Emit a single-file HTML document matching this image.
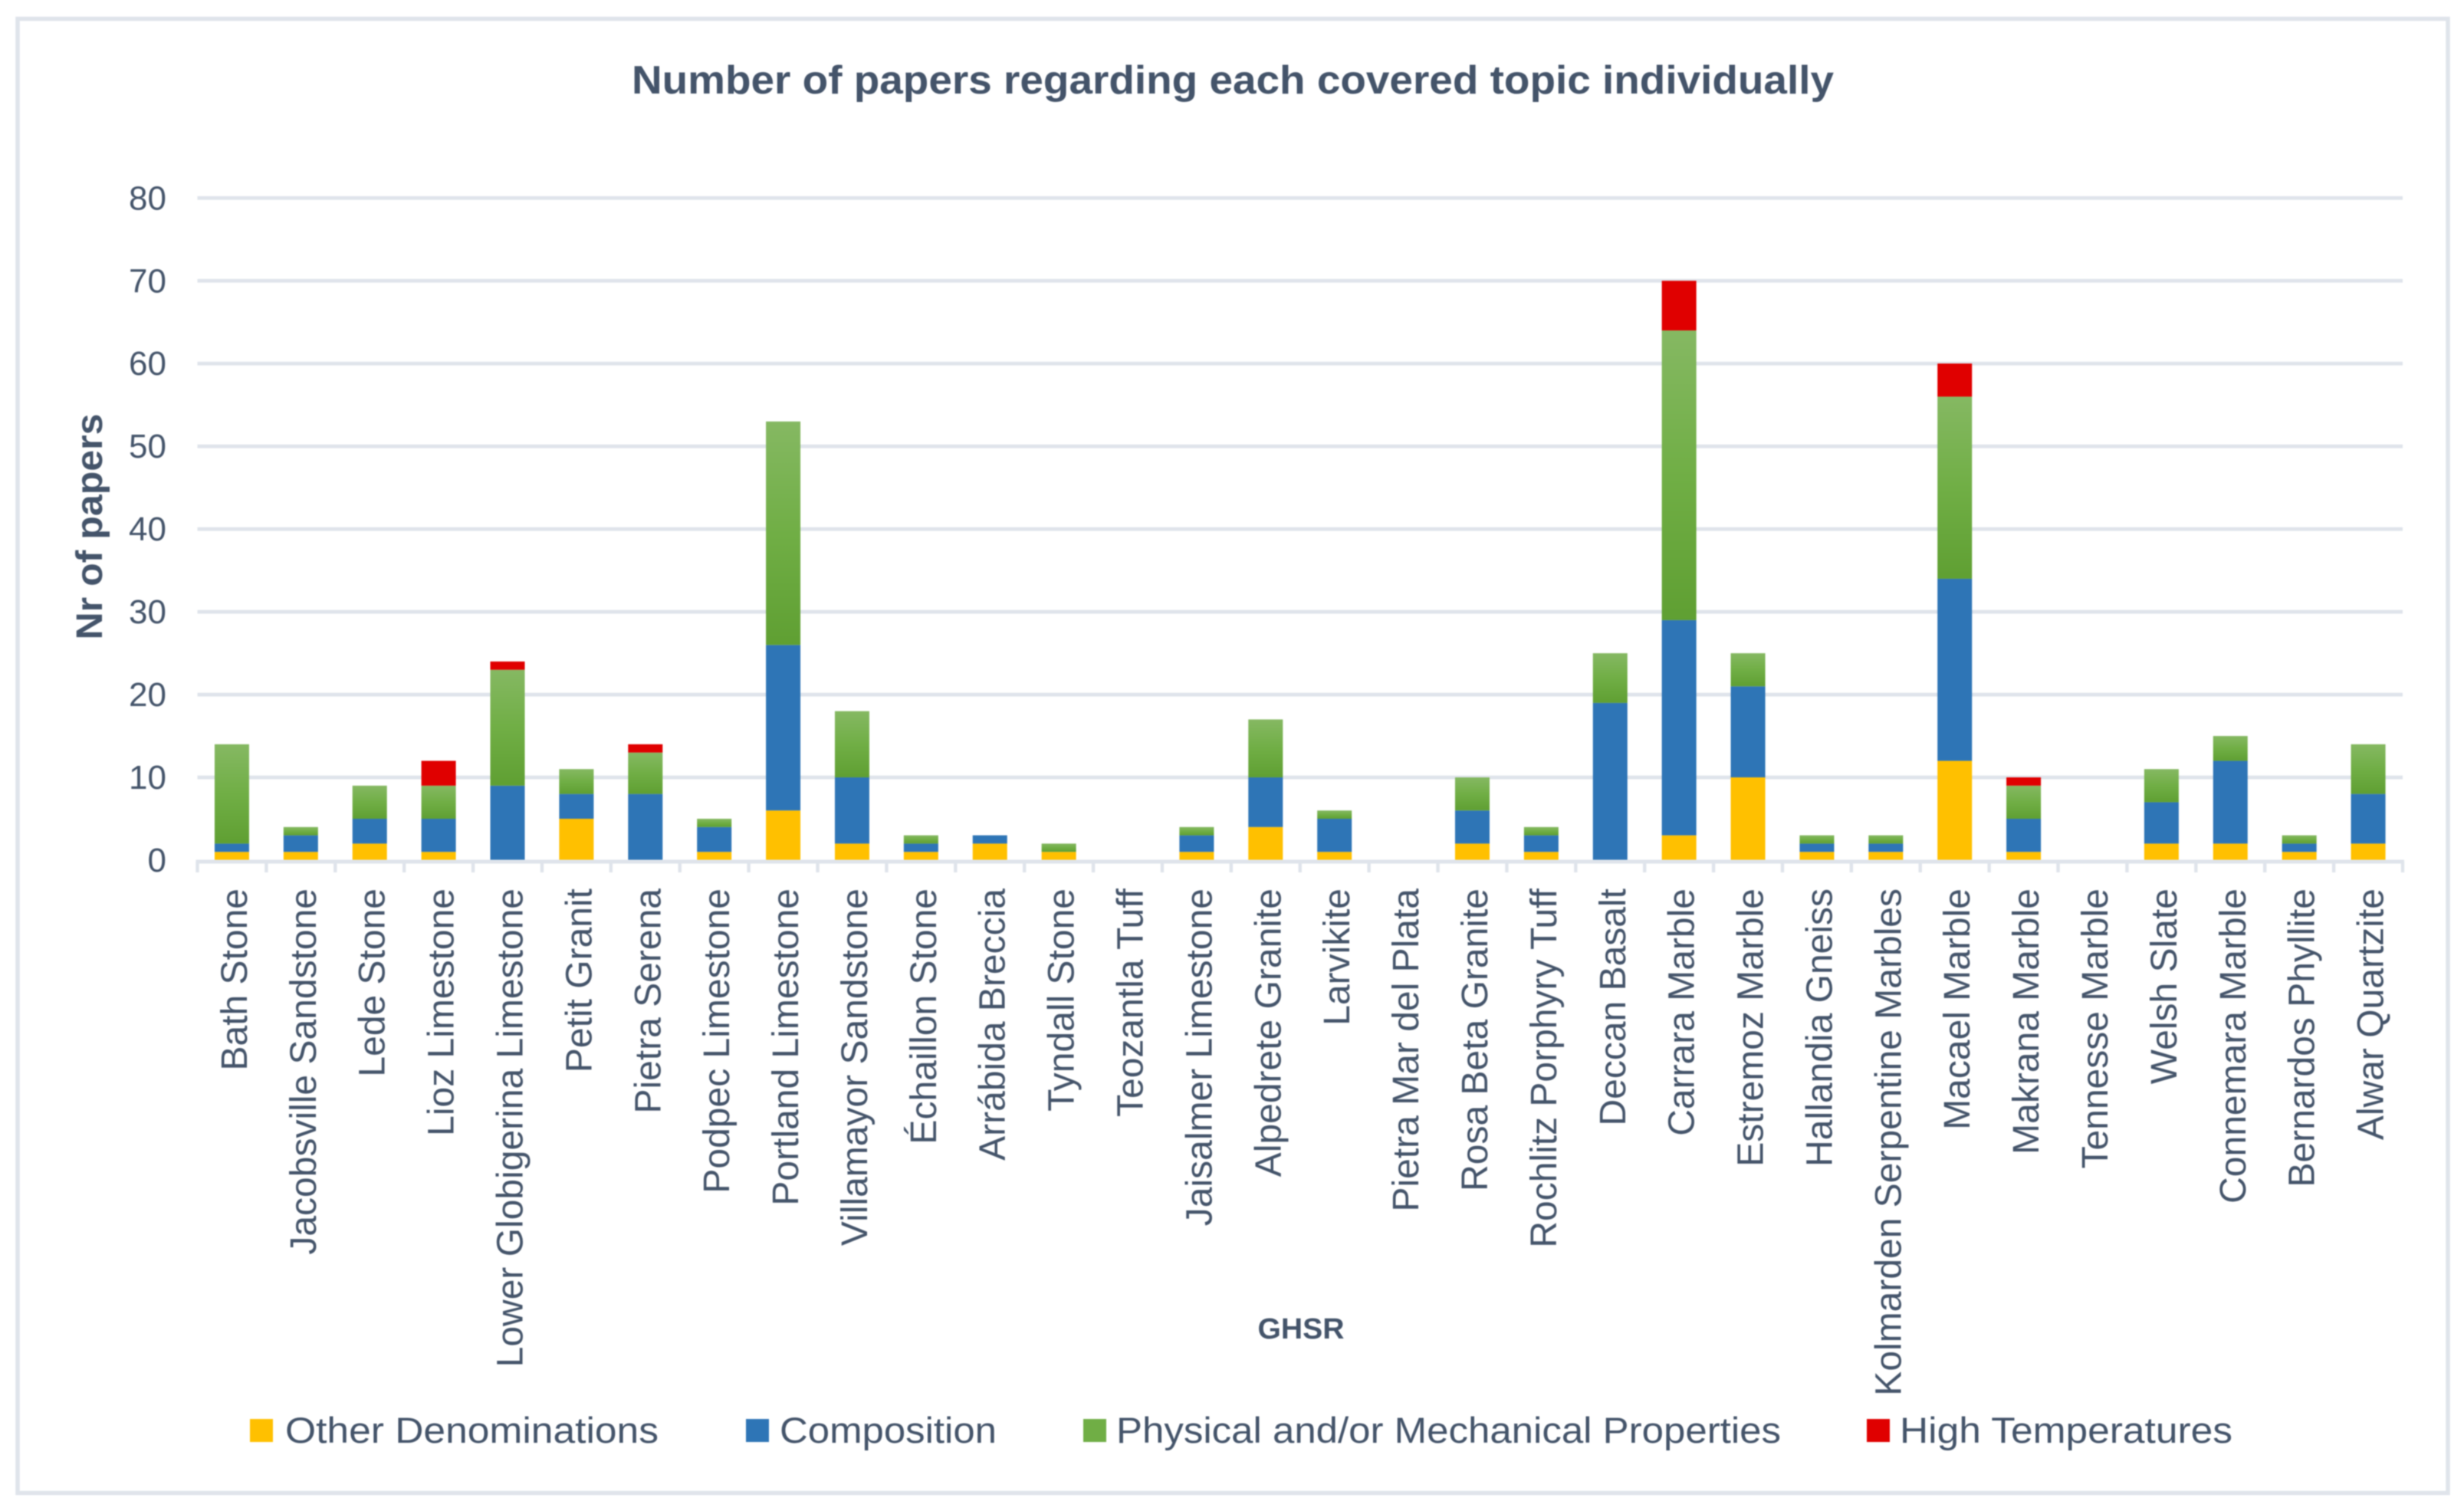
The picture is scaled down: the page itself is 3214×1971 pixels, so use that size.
<!DOCTYPE html>
<html lang="en">
<head>
<meta charset="utf-8">
<title>Number of papers regarding each covered topic individually</title>
<style>
html,body{margin:0;padding:0;background:#fff;width:3214px;height:1971px;overflow:hidden}
svg{display:block;filter:blur(0.7px)}
text{font-family:"Liberation Sans",sans-serif;fill:#44546A}
</style>
</head>
<body>
<svg id="chart" xmlns="http://www.w3.org/2000/svg" width="3214" height="1971" viewBox="0 0 3214 1971">
  <defs>
    <linearGradient id="greenFill" x1="0" y1="0" x2="0" y2="1">
      <stop offset="0" stop-color="#85B862"/>
      <stop offset="0.5" stop-color="#70AE45"/>
      <stop offset="1" stop-color="#5F9F32"/>
    </linearGradient>
  </defs>
  <rect x="0" y="0" width="3214" height="1971" fill="#fff"/>
  <rect x="23" y="24.5" width="3170" height="1923" fill="none" stroke="#DFE4EB" stroke-width="5.5"/>
  <text x="1608" y="122" text-anchor="middle" font-size="52" font-weight="bold" textLength="1568" lengthAdjust="spacingAndGlyphs">Number of papers regarding each covered topic individually</text>
  <g id="grid"></g>
  <g id="yticks"></g>
  <g id="bars"></g>
  <g id="axis"></g>
  <g id="xlabels"></g>
  <text transform="translate(133,687) rotate(-90)" text-anchor="middle" font-size="48" font-weight="bold" textLength="295" lengthAdjust="spacingAndGlyphs">Nr of papers</text>
  <text x="1697" y="1746" text-anchor="middle" font-size="38" font-weight="bold" textLength="113" lengthAdjust="spacingAndGlyphs">GHSR</text>
  <g>
    <rect x="326" y="1851" width="30" height="30" fill="#FFC000"/>
    <text x="372" y="1882" font-size="47" textLength="487" lengthAdjust="spacingAndGlyphs">Other Denominations</text>
    <rect x="973" y="1851" width="30" height="30" fill="#2E75B6"/>
    <text x="1017" y="1882" font-size="47" textLength="283" lengthAdjust="spacingAndGlyphs">Composition</text>
    <rect x="1413" y="1851" width="30" height="30" fill="#70AE45"/>
    <text x="1456" y="1882" font-size="47" textLength="867" lengthAdjust="spacingAndGlyphs">Physical and/or Mechanical Properties</text>
    <rect x="2435" y="1851" width="30" height="30" fill="#E00000"/>
    <text x="2478" y="1882" font-size="47" textLength="434" lengthAdjust="spacingAndGlyphs">High Temperatures</text>
  </g>
</svg>
<script>
const categories = ["Bath Stone","Jacobsville Sandstone","Lede Stone","Lioz Limestone","Lower Globigerina Limestone","Petit Granit","Pietra Serena","Podpec Limestone","Portland Limestone","Villamayor Sandstone","Échaillon Stone","Arrábida Breccia","Tyndall Stone","Teozantla Tuff","Jaisalmer Limestone","Alpedrete Granite","Larvikite","Pietra Mar del Plata","Rosa Beta Granite","Rochlitz Porphyry Tuff","Deccan Basalt","Carrara Marble","Estremoz Marble","Hallandia Gneiss","Kolmarden Serpentine Marbles","Macael Marble","Makrana Marble","Tennesse Marble","Welsh Slate","Connemara Marble","Bernardos Phyllite","Alwar Quartzite"];
const otherDenominations = [1,1,2,1,0,5,0,1,6,2,1,2,1,0,1,4,1,0,2,1,0,3,10,1,1,12,1,0,2,2,1,2];
const composition = [1,2,3,4,9,3,8,3,20,8,1,1,0,0,2,6,4,0,4,2,19,26,11,1,1,22,4,0,5,10,1,6];
const physicalMechanical = [12,1,4,4,14,3,5,1,27,8,1,0,1,0,1,7,1,0,4,1,6,35,4,1,1,22,4,0,4,3,1,6];
const highTemperatures = [0,0,0,3,1,0,1,0,0,0,0,0,0,0,0,0,0,0,0,0,0,6,0,0,0,4,1,0,0,0,0,0];
const yTicks = [0,10,20,30,40,50,60,70,80];

const NS = 'http://www.w3.org/2000/svg';
const plot = {left:257.5, right:3134, zero:1122, top:258.3, max:80};
function yScale(v){ return plot.zero - (v / plot.max) * (plot.zero - plot.top); }
function bandStep(){ return (plot.right - plot.left) / categories.length; }
function xCenter(i){ return plot.left + bandStep() * (i + 0.5); }
function make(tag, attrs, parent){
  const el = document.createElementNS(NS, tag);
  for (const k in attrs) el.setAttribute(k, attrs[k]);
  parent.appendChild(el);
  return el;
}

const gridG = document.getElementById('grid');
const tickG = document.getElementById('yticks');
yTicks.forEach(function(t){
  if (t !== 0) {
    const line = make('rect', {x:plot.left, y:yScale(t)-2.4, width:plot.right-plot.left, height:4.8, fill:'#DFE4EB'}, gridG);
    
    
  }
  const lab = make('text', {x:217, y:yScale(t)+15, 'text-anchor':'end', 'font-size':44}, tickG);
  
  
  lab.textContent = String(t);
});

const seriesList = [
  {name:'other-denominations', values:otherDenominations, fill:'#FFC000'},
  {name:'composition', values:composition, fill:'#2E75B6'},
  {name:'physical-mechanical', values:physicalMechanical, fill:'url(#greenFill)'},
  {name:'high-temperatures', values:highTemperatures, fill:'#E00000'}
];
const barsG = document.getElementById('bars');
const labelsG = document.getElementById('xlabels');
const barWidth = 45;
categories.forEach(function(cat, i){
  let running = 0;
  seriesList.forEach(function(s){
    const v = s.values[i];
    if (v > 0) {
      const y1 = yScale(running + v);
      const y0 = yScale(running);
      const bar = make('rect', {x:xCenter(i)-barWidth/2, y:y1, width:barWidth, height:y0-y1, fill:s.fill}, barsG);
      
      
    }
    running += v;
  });
  const cx = xCenter(i) + 19.5;
  const lab = make('text', {transform:'translate(' + cx + ',1159) rotate(-90)', 'text-anchor':'end', 'font-size':48}, labelsG);
  
  
  lab.textContent = cat;
});

const axisG = document.getElementById('axis');
const axisLine = make('rect', {x:plot.left-2, y:plot.zero-0.5, width:plot.right-plot.left+4, height:5, fill:'#DFE4EB'}, axisG);


for (let i = 0; i <= categories.length; i++) {
  const tx = plot.left + bandStep() * i;
  const tick = make('rect', {x:tx-2.2, y:plot.zero+2, width:4.4, height:14, fill:'#DFE4EB'}, axisG);
  
  
}
</script>
</body>
</html>
